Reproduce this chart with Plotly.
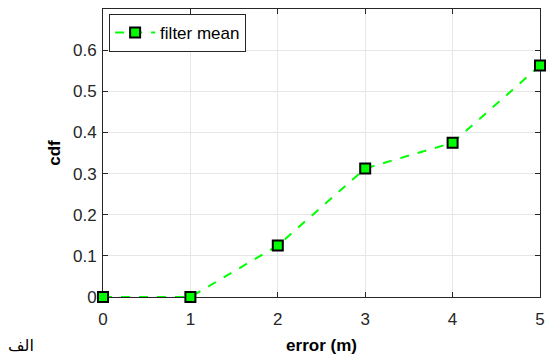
import plotly.graph_objects as go

x_vals = [0, 1, 2, 3, 4, 5]
cdf_vals = [0, 0, 0.125, 0.3125, 0.375, 0.5625]
x_ticks = [0, 1, 2, 3, 4, 5]
y_ticks = [0, 0.1, 0.2, 0.3, 0.4, 0.5, 0.6]
y_tick_labels = ["0", "0.1", "0.2", "0.3", "0.4", "0.5", "0.6"]

fig = go.Figure()
fig.add_trace(go.Scatter(
    x=x_vals, y=cdf_vals, mode="lines+markers", name="filter mean",
    line=dict(color="#00ff00", width=2, dash="dash"),
    marker=dict(symbol="square", size=10, color="#00ff00",
                line=dict(color="black", width=2)),
    cliponaxis=False,
))

font = "Liberation Sans, Arial, sans-serif"
axis_common = dict(
    showline=True, linecolor="#262626", linewidth=1, mirror="ticks",
    ticks="inside", ticklen=5, tickcolor="#262626",
    showgrid=True, gridcolor="#e6e6e6", gridwidth=1, zeroline=False,
    layer="below traces",
    tickfont=dict(family=font, size=17, color="#262626"),
)
fig.update_layout(
    width=550, height=360,
    margin=dict(l=103, r=5, t=9, b=63),
    paper_bgcolor="white", plot_bgcolor="white",
    showlegend=True,
    legend=dict(x=0.014, y=0.983, xanchor="left", yanchor="top",
                bgcolor="white", bordercolor="#262626", borderwidth=1,
                font=dict(family=font, size=17, color="black"),
                itemwidth=40, tracegroupgap=0),
    xaxis=dict(range=[0, 5], tickvals=x_ticks, ticklabelstandoff=7,
               title=dict(text="<b>error (m)</b>", font=dict(family=font, size=17, color="black"), standoff=10),
               **axis_common),
    yaxis=dict(range=[0, 0.7], tickvals=y_ticks, ticktext=y_tick_labels, ticklabelstandoff=2,
               title=dict(text="<b>cdf</b>", font=dict(family=font, size=17, color="black"), standoff=8),
               **axis_common),
)
fig.add_annotation(text="الف", xref="paper", yref="paper", x=-0.222, y=-0.167,
                   xanchor="left", yanchor="middle", showarrow=False,
                   font=dict(family="DejaVu Sans, Noto Sans, sans-serif", size=16, color="black"))
fig.write_html("out.html")
